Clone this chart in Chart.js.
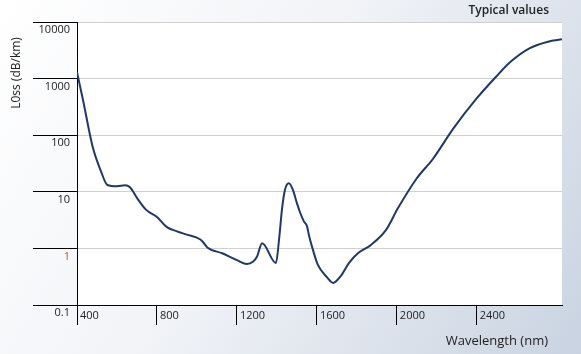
<!DOCTYPE html>
<html>
<head>
<meta charset="utf-8">
<script src="https://cdn.jsdelivr.net/npm/chart.js@4/dist/chart.umd.min.js"></script>
<style>
  html, body { margin: 0; padding: 0; background: #fff; }
  #wrap { width: 581px; height: 354px; }
</style>
</head>
<body>
<div id="wrap"><canvas id="lossChart" width="581" height="354"></canvas></div>
<script>
// valores (nm -> dB/km)
const wavelengths = [400, 430, 478, 520, 552, 600, 640, 665, 700, 746, 800, 848, 900, 950,
  1015, 1030, 1052, 1126, 1200, 1250, 1280, 1300, 1326, 1395, 1412, 1425, 1440, 1460, 1480,
  1500, 1515, 1535, 1550, 1562, 1578, 1605, 1650, 1681, 1718, 1760, 1805, 1870, 1945, 2005,
  2098, 2180, 2283, 2400, 2496, 2570, 2663, 2756, 2826];
const loss = [1300, 420, 63, 23, 13.2, 12.5, 13, 12, 7.8, 4.8, 3.6, 2.4, 2.0, 1.75,
  1.45, 1.3, 1.04, 0.82, 0.62, 0.53, 0.58, 0.71, 1.23, 0.55, 1.6, 4.8, 10.8, 14.2, 10.8,
  6.3, 4.4, 3.0, 2.5, 1.6, 1.0, 0.51, 0.31, 0.245, 0.32, 0.55, 0.82, 1.15, 2.1, 5.1,
  17, 38, 132, 450, 1080, 2000, 3430, 4490, 4950];
const xTicks = [400, 800, 1200, 1600, 2000, 2400];
const yTicks = [0.1, 1, 10, 100, 1000, 10000];

const FONT = '"Open Sans", "Noto Sans", sans-serif';

// fundo em degradê + área do gráfico branca + textos soltos
const decor = {
  id: 'decor',
  beforeDraw(chart) {
    const { ctx, chartArea: a, width, height } = chart;
    ctx.save();
    const g = ctx.createLinearGradient(0, 0, width, height);
    g.addColorStop(0, '#ffffff');
    g.addColorStop(0.45, '#f1f3f7');
    g.addColorStop(1, '#c9d3e1');
    ctx.fillStyle = g;
    ctx.fillRect(0, 0, width, height);
    ctx.fillStyle = '#ffffff';
    ctx.fillRect(a.left, a.top, a.right - a.left, a.bottom - a.top);
    ctx.restore();
  },
  afterDraw(chart) {
    const { ctx, chartArea: a } = chart;
    ctx.save();
    ctx.fillStyle = '#222';
    ctx.font = '600 12px ' + FONT;
    ctx.textAlign = 'right';
    ctx.textBaseline = 'middle';
    ctx.fillText('Typical values', a.right - 13, 11);
    ctx.font = '13px ' + FONT;
    ctx.fillText('Wavelength (nm)', a.right - 14, 341);
    ctx.translate(17, 73);
    ctx.rotate(-Math.PI / 2);
    ctx.textAlign = 'center';
    ctx.font = '12px ' + FONT;
    ctx.fillText('L0ss (dB/km)', 0, 0);
    ctx.restore();
  }
};

const chart = new Chart(document.getElementById('lossChart').getContext('2d'), {
  type: 'line',
  data: {
    datasets: [{
      data: wavelengths.map((w, i) => ({ x: w, y: loss[i] })),
      borderColor: '#1f3868',
      borderWidth: 2,
      pointRadius: 0,
      fill: false,
      cubicInterpolationMode: 'monotone'
    }]
  },
  options: {
    responsive: false,
    animation: false,
    layout: { padding: { top: 22, right: 19, left: 0, bottom: 0 } },
    scales: {
      x: {
        type: 'linear',
        min: 400,
        max: 2826,
        afterBuildTicks: s => { s.ticks = xTicks.map(v => ({ value: v })); },
        afterFit: s => { s.height = 49; },
        border: { color: '#000', width: 1 },
        grid: { drawOnChartArea: false, drawTicks: true, tickLength: 20, tickColor: '#000' },
        ticks: {
          autoSkip: false,
          maxRotation: 0,
          align: 'start',
          labelOffset: 3,
          padding: -16,
          color: '#222',
          font: { family: FONT, size: 11 },
          callback: v => String(v)
        }
      },
      y: {
        type: 'logarithmic',
        min: 0.1,
        max: 10000,
        afterBuildTicks: s => { s.ticks = yTicks.map(v => ({ value: v })); },
        afterFit: s => { s.width = 77; },
        border: { color: '#000', width: 1 },
        grid: { color: '#cfcfcf', drawTicks: true, tickLength: 44, tickColor: '#000' },
        ticks: {
          padding: -37,
          labelOffset: 8,
          color: c => c.tick.value === 1 ? '#a35f1c' : '#222',
          font: { family: FONT, size: 11 },
          callback: v => v < 1 ? String(v) : v.toFixed(0)
        }
      }
    },
    plugins: {
      legend: { display: false },
      tooltip: { enabled: false }
    }
  },
  plugins: [decor]
});
</script>
</body>
</html>
